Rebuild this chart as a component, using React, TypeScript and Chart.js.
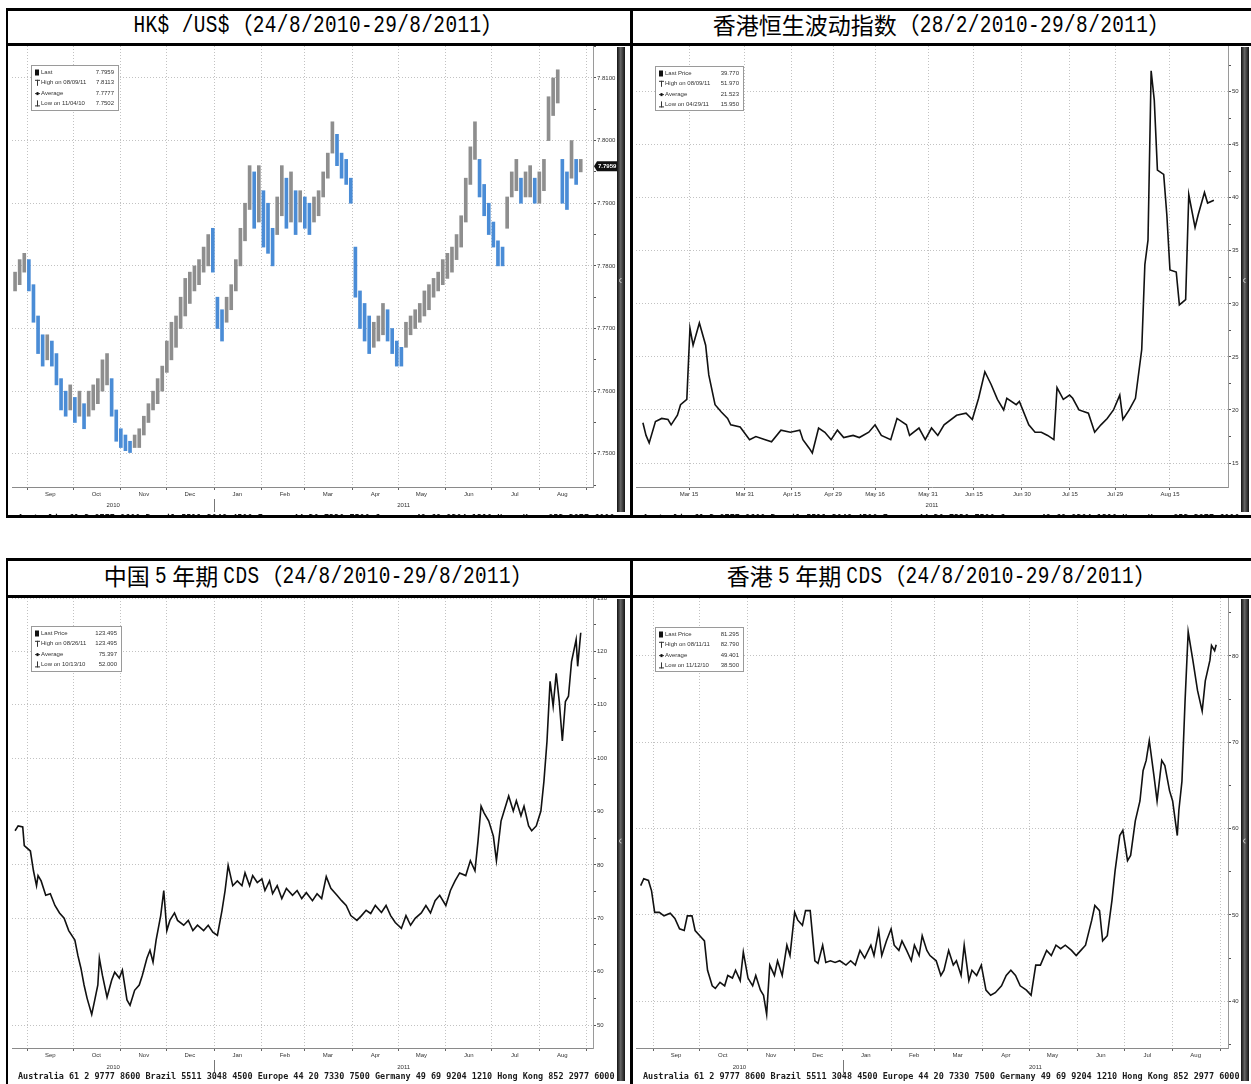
import React, { useEffect, useRef } from 'react';
import { Chart, registerables } from 'chart.js';

Chart.register(...registerables);

const FONT = '"Liberation Sans", Arial, sans-serif';
Chart.defaults.font.family = FONT;

// ---------------- HK$ / US$ (days counted from 24/8/2010) ----------------
const fxStartDay = 0;
const fxStepDays = 3;
const fxLow = [
  7.776, 7.777, 7.779, 7.776, 7.771, 7.766, 7.764, 7.765, 7.764, 7.761,
  7.757, 7.756, 7.757, 7.755, 7.756, 7.754, 7.756, 7.757, 7.758, 7.760,
  7.761, 7.756, 7.752, 7.751, 7.7505, 7.7502, 7.751, 7.751, 7.753, 7.755,
  7.757, 7.758, 7.760, 7.763, 7.765, 7.767, 7.770, 7.772, 7.774, 7.776,
  7.777, 7.779, 7.780, 7.779, 7.770, 7.768, 7.771, 7.773, 7.776, 7.780,
  7.784, 7.789, 7.786, 7.787, 7.783, 7.782, 7.780, 7.785, 7.788, 7.786,
  7.787, 7.785, 7.787, 7.786, 7.785, 7.787, 7.788, 7.791, 7.794, 7.798,
  7.796, 7.794, 7.793, 7.790, 7.775, 7.770, 7.768, 7.766, 7.767, 7.768,
  7.769, 7.768, 7.766, 7.764, 7.764, 7.767, 7.769, 7.770, 7.771, 7.772,
  7.773, 7.775, 7.776, 7.777, 7.778, 7.779, 7.781, 7.783, 7.787, 7.793,
  7.797, 7.791, 7.788, 7.785, 7.783, 7.780, 7.780, 7.786, 7.791, 7.792,
  7.790, 7.791, 7.791, 7.790, 7.790, 7.792, 7.800, 7.804, 7.806, 7.790,
  7.789, 7.794, 7.793, 7.795,
];
const fxHigh = [
  7.779, 7.781, 7.782, 7.781, 7.777, 7.772, 7.769, 7.769, 7.768, 7.766,
  7.762, 7.760, 7.761, 7.759, 7.760, 7.758, 7.760, 7.761, 7.762, 7.765,
  7.766, 7.762, 7.757, 7.754, 7.753, 7.752, 7.753, 7.754, 7.756, 7.758,
  7.760, 7.762, 7.764, 7.768, 7.771, 7.772, 7.775, 7.778, 7.779, 7.780,
  7.781, 7.783, 7.785, 7.786, 7.775, 7.773, 7.775, 7.777, 7.781, 7.786,
  7.790, 7.796, 7.795, 7.796, 7.792, 7.790, 7.786, 7.791, 7.796, 7.794,
  7.795, 7.792, 7.792, 7.791, 7.790, 7.791, 7.792, 7.795, 7.798, 7.803,
  7.801, 7.798, 7.797, 7.794, 7.783, 7.776, 7.774, 7.772, 7.771, 7.772,
  7.774, 7.773, 7.770, 7.768, 7.767, 7.771, 7.772, 7.773, 7.774, 7.776,
  7.777, 7.778, 7.779, 7.781, 7.782, 7.783, 7.785, 7.788, 7.794, 7.799,
  7.803, 7.797, 7.793, 7.790, 7.787, 7.784, 7.783, 7.791, 7.795, 7.797,
  7.794, 7.795, 7.796, 7.794, 7.795, 7.797, 7.807, 7.810, 7.8113, 7.797,
  7.795, 7.800, 7.797, 7.797,
];
const fxLast = 7.7959;
const fxTicks = [7.75, 7.76, 7.77, 7.78, 7.79, 7.8, 7.81];
const fxLegend = [
  ['Last', '7.7959'],
  ['High on 08/09/11', '7.8113'],
  ['Average', '7.7777'],
  ['Low on 11/04/10', '7.7502'],
];

// ---------------- HSI volatility (days counted from 28/2/2011) ----------------
const volDays = [
  0, 1, 2, 4, 6, 8, 9, 11, 12, 14,
  15, 16, 18, 20, 21, 23, 25, 27, 28, 31,
  33, 34, 36, 39, 41, 44, 47, 50, 51, 53,
  54, 56, 58, 60, 62, 64, 67, 69, 72, 74,
  76, 79, 81, 84, 85, 88, 90, 92, 94, 96,
  100, 103, 105, 107, 109, 111, 113, 115, 116, 119,
  120, 123, 125, 127, 129, 131, 132, 134, 136, 137,
  139, 142, 144, 146, 148, 150, 152, 153, 155, 157,
  159, 160, 161, 162, 163, 164, 166, 167, 168, 170,
  171, 173, 174, 176, 177, 179, 180, 182,
];
const volValues = [
  18.8, 17.6, 16.9, 18.9, 19.2, 19.1, 18.6, 19.5, 20.5, 21,
  27.7, 26.1, 28.2, 26.1, 23.3, 20.5, 19.8, 19.2, 18.6, 18.4,
  17.6, 17.2, 17.5, 17.2, 17.0, 18.1, 17.9, 18.1, 17.2, 16.4,
  15.95, 18.3, 17.9, 17.2, 18.1, 17.4, 17.6, 17.4, 17.9, 18.6,
  17.6, 17.2, 19.2, 18.6, 17.6, 18.3, 17.2, 18.3, 17.6, 18.6,
  19.5, 19.7, 19.1, 21.1, 23.6, 22.4, 21, 20, 21.1, 20.5,
  20.8, 18.6, 17.9, 17.9, 17.6, 17.2, 22.1, 21, 21.4, 21.1,
  20, 19.7, 17.9, 18.6, 19.2, 20, 21.4, 19.1, 20, 21.1,
  25.7, 33.7, 36, 51.97, 49.2, 42.6, 42.2, 38.4, 33.2, 33.0,
  29.9, 30.4, 40.3, 37.2, 38.4, 40.5, 39.5, 39.77,
];
const volTicks = [15, 20, 25, 30, 35, 40, 45, 50];
const volTickDays = [14.7, 32.5, 47.5, 60.6, 74, 90.9, 105.5, 120.8, 136.1, 150.5, 168];
const volTickLabels = ['Mar 15', 'Mar 31', 'Apr 15', 'Apr 29', 'May 16', 'May 31', 'Jun 15', 'Jun 30', 'Jul 15', 'Jul 29', 'Aug 15'];
const volLegend = [
  ['Last Price', '39.770'],
  ['High on 08/09/11', '51.970'],
  ['Average', '21.523'],
  ['Low on 04/29/11', '15.950'],
];

// ---------------- China 5Y CDS (days from 24/8/2010) ----------------
const cnDays = [
  0, 2, 5, 6, 10, 12, 14, 15, 17, 20,
  23, 26, 29, 32, 35, 39, 41, 43, 45, 47,
  50, 52, 54, 55, 57, 60, 63, 65, 68, 70,
  73, 75, 78, 81, 83, 86, 88, 90, 92, 95,
  97, 99, 101, 104, 106, 110, 113, 116, 119, 123,
  126, 129, 132, 135, 137, 139, 142, 145, 148, 150,
  153, 155, 158, 161, 163, 166, 168, 171, 174, 177,
  181, 184, 187, 190, 194, 197, 200, 203, 206, 210,
  213, 216, 219, 223, 226, 229, 232, 235, 239, 242,
  245, 248, 252, 255, 258, 261, 265, 268, 271, 274,
  277, 281, 284, 287, 290, 294, 297, 300, 302, 304,
  306, 309, 312, 314, 317, 319, 322, 325, 327, 330,
  332, 335, 337, 340, 343, 345, 347, 349, 351, 353,
  355, 357, 359, 361, 363, 366, 367, 369,
];
const cnValues = [
  86.4, 87.3, 87.1, 83.6, 82.6, 78.9, 76.1, 78, 77, 74.3,
  74.6, 72.4, 71, 70, 67.7, 65.9, 63, 60.6, 57.5, 55,
  52, 54.7, 57.5, 62.5, 59.3, 55.2, 58.4, 59.9, 58.8, 60.3,
  54.7, 53.7, 56.5, 57.5, 59.3, 62.5, 64, 61.8, 65.9, 70.5,
  75.2, 67.7, 69.6, 71, 69.6, 68.7, 69.6, 67.7, 68.7, 67.7,
  68.7, 67.4, 66.8, 71.5, 75.2, 79.9, 76.1, 77, 76.1, 78.5,
  76.1, 78, 76.7, 77.4, 75.2, 77, 74.6, 76.1, 73.7, 75.6,
  74.3, 75.2, 73.7, 74.8, 73.3, 74.6, 73.7, 77.8, 75.6, 74.3,
  73.3, 72.4, 70.5, 69.6, 70.5, 71.5, 70.9, 72.4, 71.1, 72.4,
  70.5, 69.2, 68.1, 70.5, 68.7, 70, 71, 72.4, 71, 73.3,
  74.3, 72.4, 75.2, 77, 78.5, 78, 80.8, 78.9, 84.5, 91,
  89.7, 88.2, 85.4, 80.8, 88.2, 90.1, 92.9, 90.1, 92, 89.2,
  91, 87.3, 86.4, 87.3, 90.1, 95.7, 103.2, 114.4, 109.7, 115.9,
  110.6, 103.2, 110.6, 111.6, 118.1, 122.2, 117.2, 123.495,
];
const cnTicks = [50, 60, 70, 80, 90, 100, 110, 120, 130];
const cnLegend = [
  ['Last Price', '123.495'],
  ['High on 08/26/11', '123.495'],
  ['Average', '75.397'],
  ['Low on 10/13/10', '52.000'],
];

// ---------------- Hong Kong 5Y CDS (days from 24/8/2010) ----------------
const hkDays = [
  0, 2, 5, 7, 9, 12, 15, 19, 22, 25,
  28, 30, 33, 35, 38, 41, 43, 46, 48, 51,
  54, 56, 59, 61, 64, 66, 69, 72, 74, 77,
  79, 81, 83, 86, 88, 91, 94, 96, 99, 101,
  104, 106, 109, 112, 114, 117, 119, 122, 125, 128,
  132, 135, 138, 141, 144, 148, 150, 153, 155, 158,
  161, 163, 166, 168, 171, 174, 176, 179, 181, 184,
  186, 190, 193, 195, 198, 201, 203, 206, 208, 211,
  213, 216, 219, 222, 225, 228, 232, 235, 238, 241,
  244, 248, 251, 254, 257, 261, 264, 267, 270, 273,
  277, 280, 283, 286, 290, 292, 295, 297, 300, 303,
  305, 308, 310, 313, 315, 318, 321, 323, 325, 327,
  330, 332, 335, 337, 340, 342, 345, 346, 348, 350,
  352, 355, 358, 361, 363, 366, 367, 369, 370,
];
const hkValues = [
  53.4, 54.2, 54, 52.8, 50.3, 50.3, 49.9, 50.2, 49.6, 48.4,
  48.2, 49.9, 49.9, 48.2, 47.6, 47, 43.6, 41.8, 41.5, 42.2,
  41.8, 43, 42.7, 43.6, 42.4, 45.7, 42.7, 41.8, 43, 41.3,
  40.7, 38.5, 44.2, 43, 44.7, 43, 46.5, 45.3, 50.3, 49.4,
  48.8, 50.5, 50.5, 44.7, 44.4, 46.5, 44.5, 44.7, 44.5, 44.7,
  44.2, 44.7, 44.2, 45.9, 45, 46.5, 45.3, 48.2, 45.3, 47,
  48.4, 46.5, 45.9, 47, 45.9, 44.7, 46.5, 45.3, 47.6, 45.9,
  45.3, 44.7, 43, 43.6, 45.9, 44.2, 44.7, 43, 46.5, 42.4,
  43.6, 43, 44.2, 41.3, 40.7, 41, 41.8, 43, 43.6, 43,
  41.8, 41.3, 40.7, 44.2, 44.2, 45.9, 45.3, 46.5, 46.1, 46.5,
  45.9, 45.3, 45.9, 46.5, 49.4, 51.1, 50.5, 47, 47.6, 51.7,
  55.1, 59.2, 59.8, 56.3, 56.9, 60.9, 63.2, 66.7, 67.9, 70.2,
  66.1, 63.2, 67.9, 67.3, 64.4, 63.2, 59.2, 62.1, 65.5, 74.8,
  82.79, 79.5, 76, 73.6, 77.1, 79.5, 81.2, 80.6, 81.295,
];
const hkTicks = [40, 50, 60, 70, 80];
const hkLegend = [
  ['Last Price', '81.295'],
  ['High on 08/11/11', '82.790'],
  ['Average', '49.401'],
  ['Low on 11/12/10', '38.500'],
];

// month boundaries (days from 24/8/2010) and labels
const monthTickDays = [8, 38, 69, 99, 130, 161, 189, 220, 250, 281, 311, 342, 373];
const monthLabels = ['Sep', 'Oct', 'Nov', 'Dec', 'Jan', 'Feb', 'Mar', 'Apr', 'May', 'Jun', 'Jul', 'Aug', ''];
const newYearDay = 130; // 1/1/2011
const yearsLong = [
  { label: '2010', from: -1e9, to: 130 },
  { label: '2011', from: 130, to: 1e9 },
];
const yearsShort = [{ label: '2011', from: -1e9, to: 1e9 }];

const footerText = 'Australia 61 2 9777 8600 Brazil 5511 3048 4500 Europe 44 20 7330 7500 Germany 49 69 9204 1210 Hong Kong 852 2977 6000';

const titleTL = 'HK$ /US$（24/8/2010-29/8/2011）';
const titleTR = '香港恒生波动指数（28/2/2010-29/8/2011）';
const titleBL = '中国 5 年期 CDS（24/8/2010-29/8/2011）';
const titleBR = '香港 5 年期 CDS（24/8/2010-29/8/2011）';

type Panel = {
  key: string;
  left: number; top: number; w: number; h: number;
  padL: number; padR: number; yW: number; xH: number;
  xMin: number; xMax: number; yMin: number; yMax: number;
  xTicks: number[]; xLabels: string[]; labelOffset: number;
  yMajors: number[]; yFmt: (v: number) => string;
  legend: { x: number; y: number; w: number; h: number };
  legendRows: string[][];
  years: { label: string; from: number; to: number }[];
  yearSep: number | null;
  last: number | null;
  yearDy: number;
  footerDy: number;
  kind: 'fx' | 'line';
  days?: number[]; values?: number[];
};

const panels: Panel[] = [
  {
    key: 'tl', left: 8, top: 46, w: 622, h: 469, padL: 4, padR: 13, yW: 24, xH: 28,
    xMin: -2, xMax: 377, yMin: 7.7447, yMax: 7.8151,
    xTicks: monthTickDays, xLabels: monthLabels, labelOffset: 23,
    yMajors: fxTicks, yFmt: (v) => v.toFixed(4),
    legend: { x: 23, y: 19, w: 87, h: 45 }, legendRows: fxLegend,
    years: yearsLong, yearSep: newYearDay, last: fxLast, yearDy: 18, footerDy: 31.5, kind: 'fx',
  },
  {
    key: 'tr', left: 633, top: 46, w: 618, h: 469, padL: 3, padR: 10, yW: 13, xH: 28,
    xMin: -2.2, xMax: 186.5, yMin: 12.74, yMax: 54.3,
    xTicks: volTickDays, xLabels: volTickLabels, labelOffset: 0,
    yMajors: volTicks, yFmt: (v) => String(v),
    legend: { x: 22, y: 20, w: 88, h: 44 }, legendRows: volLegend,
    years: yearsShort, yearSep: null, last: null, yearDy: 18, footerDy: 31.5, kind: 'line',
    days: volDays, values: volValues,
  },
  {
    key: 'bl', left: 8, top: 598, w: 622, h: 486, padL: 4, padR: 13, yW: 24, xH: 36,
    xMin: -2, xMax: 377, yMin: 45.7, yMax: 130,
    xTicks: monthTickDays, xLabels: monthLabels, labelOffset: 23,
    yMajors: cnTicks, yFmt: (v) => String(v),
    legend: { x: 23, y: 28, w: 90, h: 45 }, legendRows: cnLegend,
    years: yearsLong, yearSep: newYearDay, last: null, yearDy: 19, footerDy: 29, kind: 'line',
    days: cnDays, values: cnValues,
  },
  {
    key: 'br', left: 633, top: 598, w: 618, h: 486, padL: 3, padR: 10, yW: 13, xH: 36,
    xMin: -3, xMax: 377.6, yMin: 34.6, yMax: 86.7,
    xTicks: monthTickDays, xLabels: monthLabels, labelOffset: 23,
    yMajors: hkTicks, yFmt: (v) => String(v),
    legend: { x: 22, y: 29, w: 88, h: 44 }, legendRows: hkLegend,
    years: yearsLong, yearSep: newYearDay, last: null, yearDy: 19, footerDy: 29, kind: 'line',
    days: hkDays, values: hkValues,
  },
];

function allYTicks(p: Panel): number[] {
  const m = p.yMajors;
  const step = m[1] - m[0];
  const out: number[] = [];
  if (m[0] - step / 2 >= p.yMin) out.push(m[0] - step / 2);
  m.forEach((v, i) => {
    out.push(v);
    const nxt = i < m.length - 1 ? m[i + 1] : v + step;
    const mid = (v + nxt) / 2;
    if (mid <= p.yMax) out.push(mid);
  });
  return out;
}

function makeDecor(p: Panel) {
  return {
    id: 'decor_' + p.key,
    afterDraw(chart: any) {
      const { ctx, chartArea: ca, scales } = chart;
      const xs = scales.x;
      const ys = scales.y;
      ctx.save();
      const line = (x1: number, y1: number, x2: number, y2: number) => {
        ctx.beginPath();
        ctx.moveTo(x1, y1);
        ctx.lineTo(x2, y2);
        ctx.stroke();
      };
      // dark side bar
      const bx = ca.right + p.yW;
      const g = ctx.createLinearGradient(bx, 0, bx + 8, 0);
      g.addColorStop(0, '#111');
      g.addColorStop(0.45, '#666');
      g.addColorStop(1, '#141414');
      ctx.fillStyle = g;
      ctx.fillRect(bx, 1, 8, p.h - 4);
      ctx.strokeStyle = '#c8c8c8';
      ctx.lineWidth = 1;
      ctx.beginPath();
      ctx.arc(bx + 4.5, p.h / 2, 2, Math.PI * 0.5, Math.PI * 1.5);
      ctx.stroke();

      // legend box
      const L = p.legend;
      ctx.fillStyle = '#fff';
      ctx.fillRect(L.x, L.y, L.w, L.h);
      ctx.strokeStyle = '#9a9a9a';
      ctx.strokeRect(L.x + 0.5, L.y + 0.5, L.w, L.h);
      ctx.font = `6px ${FONT}`;
      ctx.textBaseline = 'middle';
      p.legendRows.forEach(([lab, val], i) => {
        const cy = L.y + 7.5 + i * 10.3;
        const ix = L.x + 5;
        ctx.fillStyle = '#111';
        ctx.strokeStyle = '#333';
        ctx.lineWidth = 1;
        if (i === 0) ctx.fillRect(ix - 1, cy - 3, 4, 6);
        else if (i === 1) { line(ix + 1.5, cy - 3, ix + 1.5, cy + 3); line(ix - 1, cy - 2.5, ix + 4, cy - 2.5); }
        else if (i === 2) { line(ix - 1, cy + 0.5, ix + 4, cy + 0.5); ctx.fillRect(ix + 0.5, cy - 1, 2, 3); }
        else { line(ix + 1.5, cy - 3, ix + 1.5, cy + 3); line(ix - 1, cy + 2.5, ix + 4, cy + 2.5); }
        ctx.fillStyle = '#333';
        ctx.textAlign = 'left';
        ctx.fillText(lab, ix + 5, cy);
        ctx.textAlign = 'right';
        ctx.fillText(val, L.x + L.w - 4, cy);
      });

      // last price tag
      if (p.last != null) {
        const y = ys.getPixelForValue(p.last);
        ctx.fillStyle = '#111';
        ctx.beginPath();
        ctx.moveTo(ca.right + 1, y);
        ctx.lineTo(ca.right + 4, y - 5);
        ctx.lineTo(ca.right + 24, y - 5);
        ctx.lineTo(ca.right + 24, y + 5);
        ctx.lineTo(ca.right + 4, y + 5);
        ctx.closePath();
        ctx.fill();
        ctx.fillStyle = '#fff';
        ctx.textAlign = 'left';
        ctx.font = `bold 6px ${FONT}`;
        ctx.fillText(p.yFmt(p.last), ca.right + 5, y);
      }

      // year row
      ctx.font = `6px ${FONT}`;
      ctx.fillStyle = '#333';
      ctx.textAlign = 'center';
      p.years.forEach((yr) => {
        const a = Math.max(yr.from, xs.min);
        const b = Math.min(yr.to, xs.max);
        ctx.fillText(yr.label, xs.getPixelForValue((a + b) / 2), ca.bottom + p.yearDy);
      });
      if (p.yearSep != null) {
        const px = Math.round(xs.getPixelForValue(p.yearSep)) + 0.5;
        ctx.strokeStyle = '#777';
        line(px, ca.bottom + 12, px, ca.bottom + 25);
      }

      // footer line
      ctx.font = 'bold 10px "DejaVu Sans Mono", monospace';
      const tw = ctx.measureText(footerText).width;
      const fs = (10 * 597) / tw;
      ctx.font = `bold ${fs.toFixed(2)}px "DejaVu Sans Mono", monospace`;
      ctx.fillStyle = '#1a1a1a';
      ctx.textAlign = 'left';
      ctx.textBaseline = 'middle';
      ctx.fillText(footerText, 10, ca.bottom + p.footerDy);
      ctx.restore();
    },
  };
}

function makeConfig(p: Panel): any {
  const yAll = allYTicks(p);
  const isMajor = (v: number) => p.yMajors.some((m) => Math.abs(m - v) < 1e-9);
  let datasets: any[];
  if (p.kind === 'fx') {
    const data = fxLow.map((lo, i) => ({ x: fxStartDay + i * fxStepDays, y: [lo, fxHigh[i]] }));
    const colors = fxLow.map((lo, i) => {
      const mid = (lo + fxHigh[i]) / 2;
      const prev = i > 0 ? (fxLow[i - 1] + fxHigh[i - 1]) / 2 : mid;
      return mid < prev ? '#4a8cd6' : '#8e8e8e';
    });
    datasets = [{ data, backgroundColor: colors, borderWidth: 0, barThickness: 3 }];
  } else {
    const d = p.days as number[];
    const v = p.values as number[];
    datasets = [{
      data: d.map((x, i) => ({ x, y: v[i] })),
      borderColor: '#111', borderWidth: 1.6, pointRadius: 0, tension: 0, fill: false,
    }];
  }
  return {
    type: p.kind === 'fx' ? 'bar' : 'line',
    data: { datasets },
    options: {
      animation: false,
      responsive: false,
      maintainAspectRatio: false,
      events: [],
      layout: { padding: { left: p.padL, right: p.padR, top: 0, bottom: 0 } },
      plugins: { legend: { display: false }, tooltip: { enabled: false }, title: { display: false } },
      scales: {
        x: {
          type: 'linear', min: p.xMin, max: p.xMax, offset: false,
          afterBuildTicks: (s: any) => { s.ticks = p.xTicks.map((v) => ({ value: v })); },
          afterFit: (s: any) => { s.height = p.xH; s.paddingLeft = 0; s.paddingRight = 0; },
          grid: { color: '#c2c2c2', lineWidth: 1, tickColor: '#666', tickLength: 3, drawTicks: true, offset: false },
          border: { display: true, color: '#8a8a8a', width: 1, dash: [1, 2] },
          ticks: {
            callback: (_v: any, i: number) => p.xLabels[i] ?? '',
            font: { size: 6, family: FONT }, color: '#333', padding: 1,
            labelOffset: p.labelOffset, maxRotation: 0, minRotation: 0, autoSkip: false,
          },
        },
        y: {
          type: 'linear', position: 'right', min: p.yMin, max: p.yMax,
          afterBuildTicks: (s: any) => { s.ticks = yAll.map((v) => ({ value: v })); },
          afterFit: (s: any) => { s.width = p.yW; s.paddingTop = 0; s.paddingBottom = 0; },
          grid: {
            color: (c: any) => (c.tick && isMajor(c.tick.value) ? '#c2c2c2' : 'rgba(0,0,0,0)'),
            lineWidth: 1, tickColor: '#555', tickLength: 3, drawTicks: true,
          },
          border: { display: true, color: '#9a9a9a', width: 1, dash: [1, 2] },
          ticks: {
            callback: (v: any) => (isMajor(Number(v)) ? p.yFmt(Number(v)) : ''),
            font: { size: 6, family: FONT }, color: '#333', padding: 1, autoSkip: false,
          },
        },
      },
    },
    plugins: [makeDecor(p)],
  };
}

const CJK_RE = /[\u2E80-\u9FFF\uFF00-\uFFEF]/;

function splitRuns(text: string): { cjk: boolean; s: string }[] {
  const chars = Array.from(text);
  const runs: { cjk: boolean; s: string }[] = [];
  chars.forEach((ch, i) => {
    let cjk = CJK_RE.test(ch);
    if (ch === ' ') {
      const prev = chars[i - 1] || '';
      const next = chars[i + 1] || '';
      cjk = CJK_RE.test(prev) || CJK_RE.test(next);
    }
    const last = runs[runs.length - 1];
    if (last && last.cjk === cjk) last.s += ch;
    else runs.push({ cjk, s: ch });
  });
  return runs;
}

function TitleText({ text }: { text: string }) {
  const runs = splitRuns(text);
  return (
    <>
      {runs.map((r, i) =>
        r.cjk ? (
          <span key={i} style={{ fontFamily: '"Noto Sans CJK SC"', fontSize: 23, whiteSpace: 'pre', position: 'relative', top: -3 }}>{r.s}</span>
        ) : (
          <span key={i} style={{ fontFamily: '"Liberation Mono", monospace', fontSize: 19.4, letterSpacing: 0.4, whiteSpace: 'pre', display: 'inline-block', transform: 'scaleY(1.2)' }}>{r.s}</span>
        )
      )}
    </>
  );
}

const blk = (l: number, t: number, w: number, h: number): React.CSSProperties => ({
  position: 'absolute', left: l, top: t, width: w, height: h, background: '#000',
});

export default function App() {
  const refs = [useRef<HTMLCanvasElement>(null), useRef<HTMLCanvasElement>(null), useRef<HTMLCanvasElement>(null), useRef<HTMLCanvasElement>(null)];
  useEffect(() => {
    const charts: Chart[] = [];
    panels.forEach((p, i) => {
      const c = refs[i].current;
      if (c) charts.push(new Chart(c, makeConfig(p)));
    });
    return () => charts.forEach((ch) => ch.destroy());
  }, []);

  const titleStyle = (l: number, t: number, w: number, h: number): React.CSSProperties => ({
    position: 'absolute', left: l, top: t, width: w, height: h, display: 'flex',
    alignItems: 'center', justifyContent: 'center', color: '#000', lineHeight: 1,
  });

  return (
    <div style={{ position: 'absolute', left: 0, top: 0, width: 1251, height: 1084, background: '#fff', overflow: 'hidden' }}>
      {panels.map((p, i) => (
        <canvas key={p.key} ref={refs[i]} width={p.w} height={p.h}
          style={{ position: 'absolute', left: p.left, top: p.top, width: p.w, height: p.h }} />
      ))}
      <div style={titleStyle(8, 10, 622, 34)}><TitleText text={titleTL} /></div>
      <div style={titleStyle(633, 10, 618, 34)}><TitleText text={titleTR} /></div>
      <div style={titleStyle(8, 560, 622, 36)}><TitleText text={titleBL} /></div>
      <div style={titleStyle(633, 560, 618, 36)}><TitleText text={titleBR} /></div>
      {/* top block borders */}
      <div style={blk(6, 8, 1245, 3)} />
      <div style={blk(6, 43, 1245, 3)} />
      <div style={blk(6, 515, 1245, 3)} />
      <div style={blk(6, 8, 2, 510)} />
      <div style={blk(630, 8, 3, 510)} />
      {/* bottom block borders */}
      <div style={blk(6, 558, 1245, 3)} />
      <div style={blk(6, 595, 1245, 3)} />
      <div style={blk(6, 558, 2, 526)} />
      <div style={blk(630, 558, 3, 526)} />
    </div>
  );
}
